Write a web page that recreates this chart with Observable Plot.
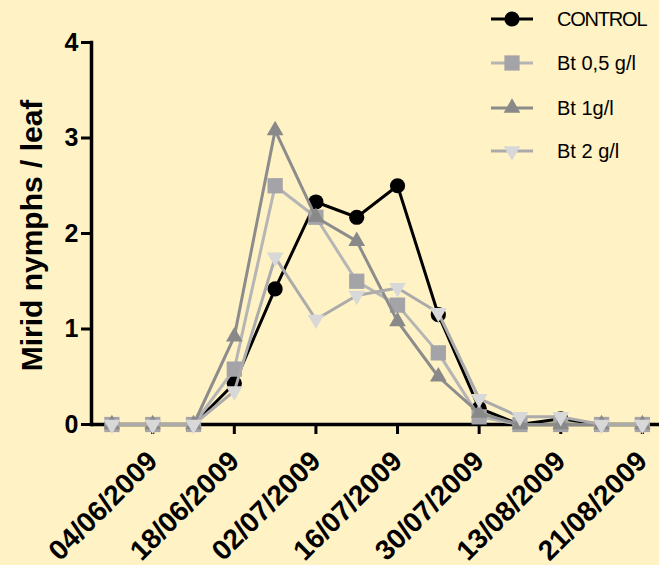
<!DOCTYPE html>
<html><head><meta charset="utf-8">
<script src="https://cdn.jsdelivr.net/npm/d3@7"></script>
<script src="https://cdn.jsdelivr.net/npm/@observablehq/plot@0.6"></script>
<style>
html,body{margin:0;padding:0;background:#FFF2C4;}
#wrap{position:relative;width:659px;height:565px;background:#FFF2C4;overflow:hidden;font-family:Arial,"Liberation Sans",sans-serif;}
#legend{position:absolute;left:0;top:0;}
</style></head><body><div id="wrap"></div>
<script>
// ---- data ----
const dates = ["28/05/2009","04/06/2009","11/06/2009","18/06/2009","25/06/2009","02/07/2009","09/07/2009","16/07/2009","23/07/2009","30/07/2009","06/08/2009","13/08/2009","17/08/2009","21/08/2009"];
const labelledDates = ["04/06/2009","18/06/2009","02/07/2009","16/07/2009","30/07/2009","13/08/2009","21/08/2009"];
const seriesNames = ["CONTROL","Bt 0,5 g/l","Bt 1g/l","Bt 2 g/l"];
const control = [0,0,0,0.43,1.42,2.33,2.17,2.5,1.15,0.17,0,0.06,0,0];
const bt05    = [0,0,0,0.58,2.5,2.17,1.5,1.25,0.75,0.08,0,0,0,0];
const bt1     = [0,0,0,0.92,3.08,2.17,1.92,1.08,0.5,0.12,0,0,0,0];
const bt2     = [0,0,0,0.35,1.75,1.1,1.35,1.43,1.17,0.27,0.08,0.08,0,0];
const yTicks = [0,1,2,3,4];
const yTitle = "Mirid nymphs / leaf";

// ---- styles ----
const values = [control, bt05, bt1, bt2];
const lineColors = ["#000000","#B5B5B5","#8C8C8C","#ABABAB"];
const markColors = ["#000000","#A3A3A8","#898989","#D8D8D8"];
const symbols = ["circle","square","triangle","triangle"];
const rotations = [0,0,0,180];
const radii = [7.6,8.6,6.2,6.2];

const rows = seriesNames.map((s,k) => values[k].map((v,i) => ({series:s, date:dates[i], i, value:v})));
const tickIdx = labelledDates.map(d => dates.indexOf(d));

const marks = [
  Plot.ruleY([0], {stroke:"#000", strokeWidth:3.5}),
  Plot.frame({anchor:"left", stroke:"#000", strokeWidth:3.5}),
  Plot.axisY({ticks: yTicks, tickFormat: d => String(d), tickSize: 10, tickPadding: 3, fontSize: 25, fontWeight: "bold", label: null, strokeWidth: 3, fill:"#000"}),
  Plot.axisX({ticks: tickIdx, tickFormat: i => dates[i], tickRotate: -45, tickSize: 10, tickPadding: 22, fontSize: 28, fontWeight: "bold", label: null, strokeWidth: 3, fill:"#000"}),
  Plot.text([yTitle], {frameAnchor:"left", textAnchor:"middle", rotate:-90, dx:-59, dy:2, fontSize:30, fontWeight:"bold", fill:"#000"})
];
rows.forEach((data,k) => {
  marks.push(Plot.line(data, {x:"i", y:"value", stroke: lineColors[k], strokeWidth:3}));
  marks.push(Plot.dot(data, {x:"i", y:"value", symbol: symbols[k], r: radii[k], fill: markColors[k], stroke:"none", rotate: rotations[k]}));
});

const chart = Plot.plot({
  width: 659, height: 565,
  marginLeft: 91, marginRight: 0, marginTop: 42, marginBottom: 141,
  style: {background:"#FFF2C4", fontFamily:"Arial, 'Liberation Sans', sans-serif", overflow:"visible"},
  x: {type:"linear", domain:[-0.5, 13.42]},
  y: {domain:[0,4]},
  marks
});
document.getElementById("wrap").appendChild(chart);

// ---- legend ----
const leg = d3.select("#wrap").append("svg").attr("id","legend").attr("width",659).attr("height",180);
const rowY = [19, 63, 108, 151];
seriesNames.forEach((s,k) => {
  const g = leg.append("g").attr("transform", `translate(0,${rowY[k]})`);
  g.append("line").attr("x1",491).attr("x2",533).attr("y1",0).attr("y2",0).attr("stroke",lineColors[k]).attr("stroke-width",3);
  const sym = {circle:d3.symbolCircle, square:d3.symbolSquare, triangle:d3.symbolTriangle}[symbols[k]];
  g.append("path").attr("d", d3.symbol(sym, Math.PI*radii[k]*radii[k])())
    .attr("transform", `translate(512,0) rotate(${rotations[k]})`).attr("fill", markColors[k]);
  g.append("text").attr("x",557).attr("y",7).attr("font-size",20)
    .attr("font-family","Arial, 'Liberation Sans', sans-serif")
    .attr("letter-spacing", k===0 ? -1.2 : 0).attr("fill","#000").text(s);
});
</script></body></html>
